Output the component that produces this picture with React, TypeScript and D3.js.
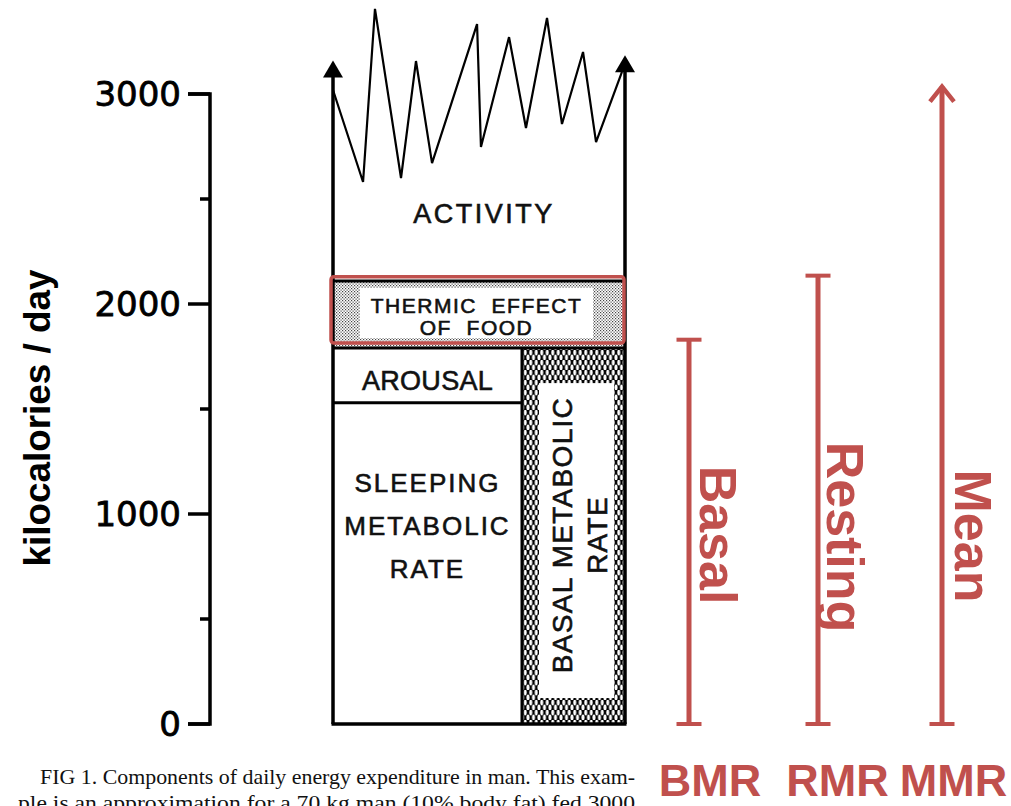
import React from "react";
import * as d3 from "d3";

// ---------- data ----------
const yTicksMajor = [0, 1000, 2000, 3000];
const yTicksMinor = [500, 1500, 2500];

// activity trace across the day (hour, kcal/day)
const activityHour = [0, 2.47, 3.45, 5.59, 6.82, 8.14, 11.84, 12.16, 14.47, 15.86, 17.59, 18.82, 20.55, 21.62, 23.75];
const activityKcal = [3019, 2581, 3405, 2600, 3157, 2671, 3333, 2748, 3271, 2838, 3362, 2857, 3200, 2771, 3105];

// stacked components (kcal/day boundaries)
const sleepingTop = 1530;
const arousalTop = 1790;
const bmrTop = 1790;
const tefTop = 2110;
const arrowTopLeft = 3160;
const arrowTopRight = 3185;

// red annotation (kcal/day)
const rateNames = ["Basal", "Resting", "Mean"];
const rateAbbr = ["BMR", "RMR", "MMR"];
const rateKcal = [1830, 2135, 3045];
const highlightKcal = [1814, 2130];

const captionLines = [
  "FIG 1. Components of daily energy expenditure in man. This exam-",
  "ple is an approximation for a 70 kg man (10% body fat) fed 3000",
];

// ---------- layout ----------
const W = 1011;
const H = 806;
const RED = "#C0504D";
const y = d3.scaleLinear().domain([0, 3000]).range([724, 94]);
const x = d3.scaleLinear().domain([0, 24]).range([333, 625]);
const axX = 210;
const splitX = 522;
const rateX = [689, 818, 942];
const labelFont = "'Liberation Sans', Arial, sans-serif";

export default function App() {
  const x0 = x(0);
  const x1 = x(24);
  const line = d3
    .line<number>()
    .x((_, i) => x(activityHour[i]))
    .y((d) => y(d));
  const zig = line(activityKcal) || "";

  const arrowHead = (cx: number, tip: number) =>
    `M${cx},${tip} L${cx - 10},${tip + 17} L${cx + 10},${tip + 17} Z`;

  const tefY0 = y(tefTop);
  const tefY1 = y(arousalTop);

  const lettering: React.CSSProperties = {
    fontFamily: labelFont,
    fill: "#111",
    stroke: "#111",
    strokeWidth: 0.6,
    whiteSpace: "pre",
  };

  return (
    <svg
      width={W}
      height={H}
      viewBox={`0 0 ${W} ${H}`}
      style={{ position: "absolute", left: 0, top: 0, background: "#fff" }}
    >
      <defs>
        <pattern id="stipple" width="3" height="3" patternUnits="userSpaceOnUse">
          <rect width="3" height="3" fill="#fff" />
          <rect x="0" y="0" width="1.2" height="1.2" fill="#444" />
          <rect x="1.5" y="1.5" width="1.2" height="1.2" fill="#444" />
        </pattern>
        <pattern id="mesh" width="5.5" height="10" patternUnits="userSpaceOnUse">
          <rect width="5.5" height="10" fill="#000" />
          <ellipse cx="2.75" cy="2.5" rx="1.5" ry="3" fill="#fff" />
          <ellipse cx="0" cy="7.5" rx="1.5" ry="3" fill="#fff" />
          <ellipse cx="5.5" cy="7.5" rx="1.5" ry="3" fill="#fff" />
        </pattern>
      </defs>

      {/* y axis */}
      <path
        d={`M${axX - 22},${y(3000)} H${axX} V${y(0)} H${axX - 22}`}
        fill="none"
        stroke="#000"
        strokeWidth={3.5}
      />
      {yTicksMajor.map((t) => (
        <g key={"M" + t}>
          <line x1={axX - 22} x2={axX} y1={y(t)} y2={y(t)} stroke="#000" strokeWidth={3.5} />
          <text
            x={axX - 29}
            y={y(t)}
            dy="0.36em"
            textAnchor="end"
            fontFamily="'DejaVu Sans', sans-serif"
            fontSize={34}
            fill="#000"
            stroke="#000"
            strokeWidth={0.8}
          >
            {t}
          </text>
        </g>
      ))}
      {yTicksMinor.map((t) => (
        <line key={"m" + t} x1={axX - 10} x2={axX} y1={y(t)} y2={y(t)} stroke="#000" strokeWidth={3.5} />
      ))}
      <text
        transform={`translate(50,418) rotate(-90)`}
        textAnchor="middle"
        fontFamily={labelFont}
        fontWeight="bold"
        fontSize={37}
        textLength={297}
        lengthAdjust="spacingAndGlyphs"
        fill="#000"
      >
        kilocalories / day
      </text>

      {/* thermic effect of food */}
      <rect x={x0} y={tefY0} width={x1 - x0} height={tefY1 - tefY0} fill="url(#stipple)" />
      <rect x={x0 + 27} y={tefY0 + 7} width={x1 - x0 - 59} height={tefY1 - tefY0 - 17} fill="#fff" />
      <text x={(x0 + 27 + x1 - 32) / 2} y={313} textAnchor="middle" fontSize={21} letterSpacing={1.5} style={lettering}>
        {"THERMIC  EFFECT"}
      </text>
      <text x={(x0 + 27 + x1 - 32) / 2} y={335} textAnchor="middle" fontSize={21} letterSpacing={1.5} style={lettering}>
        {"OF  FOOD"}
      </text>

      {/* basal metabolic rate column */}
      <rect x={splitX} y={y(bmrTop)} width={x1 - splitX} height={y(0) - y(bmrTop)} fill="url(#mesh)" />
      <rect
        x={splitX + 17}
        y={y(bmrTop) + 35}
        width={x1 - splitX - 28}
        height={y(0) - y(bmrTop) - 61}
        fill="#fff"
      />
      <text
        transform={`translate(572,535) rotate(-90)`}
        textAnchor="middle"
        fontSize={28}
        letterSpacing={1.3}
        style={lettering}
      >
        BASAL METABOLIC
      </text>
      <text
        transform={`translate(607,535) rotate(-90)`}
        textAnchor="middle"
        fontSize={28}
        letterSpacing={1.3}
        style={lettering}
      >
        RATE
      </text>

      {/* structure lines */}
      <line x1={x0} x2={x1} y1={y(tefTop)} y2={y(tefTop)} stroke="#000" strokeWidth={3} />
      <line x1={x0} x2={x1} y1={y(arousalTop)} y2={y(arousalTop)} stroke="#000" strokeWidth={3} />
      <line x1={x0} x2={splitX} y1={y(sleepingTop)} y2={y(sleepingTop)} stroke="#000" strokeWidth={3} />
      <line x1={splitX} x2={splitX} y1={y(bmrTop)} y2={y(0)} stroke="#000" strokeWidth={3} />
      <line x1={x0 - 1.5} x2={x1 + 1.5} y1={y(0)} y2={y(0)} stroke="#000" strokeWidth={3.5} />

      {/* side arrows */}
      <line x1={x0} x2={x0} y1={y(0)} y2={y(arrowTopLeft) + 10} stroke="#000" strokeWidth={3.5} />
      <line x1={x1} x2={x1} y1={y(0)} y2={y(arrowTopRight) + 10} stroke="#000" strokeWidth={3.5} />
      <path d={arrowHead(x0, y(arrowTopLeft))} fill="#000" />
      <path d={arrowHead(x1, y(arrowTopRight))} fill="#000" />

      {/* activity zigzag */}
      <path d={zig} fill="none" stroke="#000" strokeWidth={2.2} strokeLinejoin="miter" />

      {/* component labels */}
      <text x={484} y={223} textAnchor="middle" fontSize={27} letterSpacing={2.5} style={lettering}>
        ACTIVITY
      </text>
      <text x={(x0 + splitX) / 2} y={390} textAnchor="middle" fontSize={27} letterSpacing={0.3} style={lettering}>
        AROUSAL
      </text>
      {["SLEEPING", "METABOLIC", "RATE"].map((s, i) => (
        <text
          key={s}
          x={(x0 + splitX) / 2}
          y={492 + i * 43}
          textAnchor="middle"
          fontSize={26}
          letterSpacing={2}
          style={lettering}
        >
          {s}
        </text>
      ))}

      {/* red highlight of TEF */}
      <rect
        x={x0 - 2}
        y={y(highlightKcal[1])}
        width={x1 - x0 + 1}
        height={y(highlightKcal[0]) - y(highlightKcal[1])}
        rx={3}
        fill="none"
        stroke={RED}
        strokeWidth={3.5}
      />

      {/* red rate indicators */}
      {rateKcal.map((v, i) => {
        const cx = rateX[i];
        const isArrow = i === 2;
        return (
          <g key={rateNames[i]}>
            <line x1={cx} x2={cx} y1={y(0)} y2={y(v) + (isArrow ? 2 : 0)} stroke={RED} strokeWidth={5} />
            <line x1={cx - 12.5} x2={cx + 12.5} y1={y(0)} y2={y(0)} stroke={RED} strokeWidth={4} />
            {isArrow ? (
              <path
                d={`M${cx - 12},${y(v) + 17} L${cx},${y(v) + 2} L${cx + 12},${y(v) + 17}`}
                fill="none"
                stroke={RED}
                strokeWidth={4.5}
              />
            ) : (
              <line x1={cx - 12.5} x2={cx + 12.5} y1={y(v)} y2={y(v)} stroke={RED} strokeWidth={4} />
            )}
          </g>
        );
      })}
      {rateNames.map((n, i) => (
        <text
          key={"rn" + n}
          transform={`translate(${[700, 827, 955][i]},${[535, 537, 536][i]}) rotate(90)`}
          textAnchor="middle"
          fontFamily={labelFont}
          fontWeight="bold"
          fontSize={52}
          fill={RED}
        >
          {n}
        </text>
      ))}
      {rateAbbr.map((n, i) => (
        <text
          key={"ra" + n}
          x={[710, 837.5, 953.5][i]}
          y={796}
          textAnchor="middle"
          fontFamily={labelFont}
          fontWeight="bold"
          fontSize={45}
          fill={RED}
        >
          {n}
        </text>
      ))}

      {/* caption */}
      <text
        x={40}
        y={784}
        fontFamily="'Liberation Serif', 'Times New Roman', serif"
        fontSize={21}
        textLength={595}
        lengthAdjust="spacingAndGlyphs"
        fill="#111"
      >
        {captionLines[0]}
      </text>
      <text
        x={18}
        y={810}
        fontFamily="'Liberation Serif', 'Times New Roman', serif"
        fontSize={21}
        textLength={617}
        lengthAdjust="spacingAndGlyphs"
        fill="#111"
      >
        {captionLines[1]}
      </text>
    </svg>
  );
}
